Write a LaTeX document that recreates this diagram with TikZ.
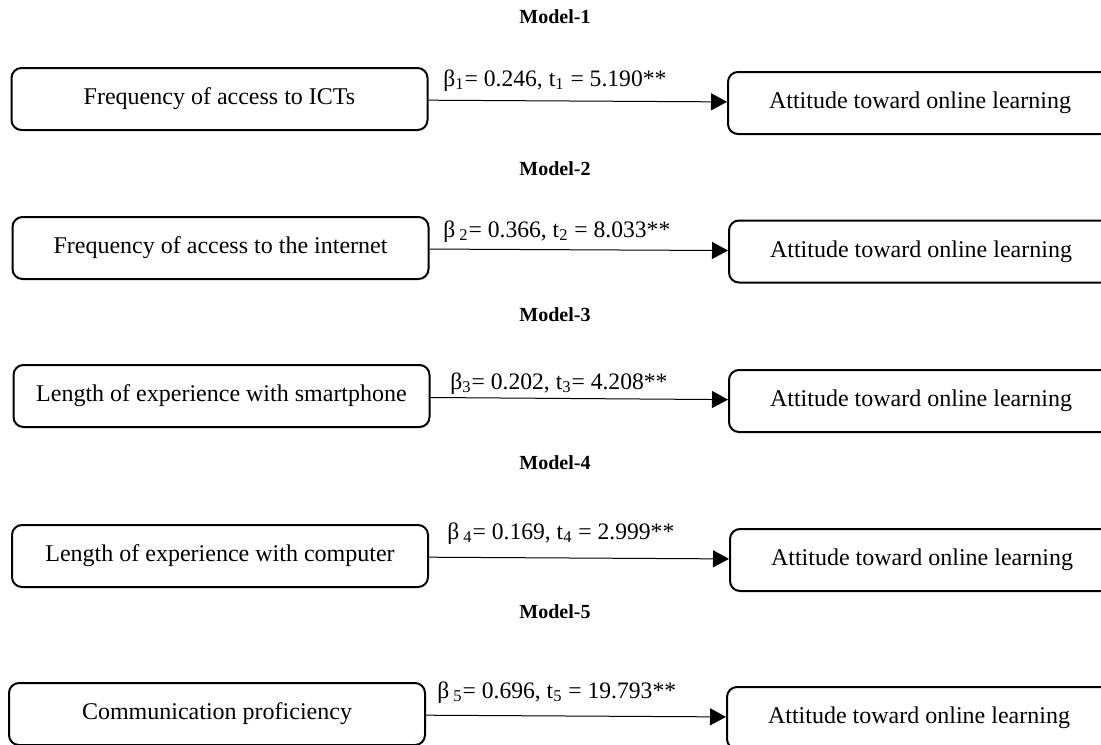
\documentclass[tikz,border=0pt]{standalone}
\usepackage{fontspec}
\setmainfont{Liberation Serif}
\usetikzlibrary{arrows.meta}

\begin{document}
\begin{tikzpicture}[x=0.5pt, y=-0.5pt,
    box/.style={draw, line width=1pt, rounded corners=5pt, minimum height=31pt,
      font=\fontsize{12}{14}\selectfont},
    predbox/.style={box, minimum width=208pt},
    outbox/.style={box, minimum width=192pt},
    title/.style={font=\fontsize{10}{12}\selectfont\bfseries},
    coef/.style={anchor=base west, inner sep=0pt, font=\fontsize{11.8}{14}\selectfont},
    path/.style={line width=0.5pt, -{Triangle[length=8pt, width=8.5pt]}}]
  \useasboundingbox (0, 0) rectangle (1101, 744);
  \clip (0, 0) rectangle (1101, 744);

  % titles
  \node[title] (m1) at (555, 17) {Model-1};
  \node[title] (m2) at (555, 169) {Model-2};
  \node[title] (m3) at (555, 315) {Model-3};
  \node[title] (m4) at (555, 463) {Model-4};
  \node[title] (m5) at (555, 612) {Model-5};

  % predictors
  \node[predbox] (p1) at (219.5, 99) {Frequency of access to ICTs};
  \node[predbox] (p2) at (220.5, 248) {Frequency of access to the internet};
  \node[predbox] (p3) at (221.5, 396) {Length of experience with smartphone};
  \node[predbox] (p4) at (220, 556) {Length of experience with computer};
  \node[predbox] (p5) at (217, 714) {Communication proficiency};

  % outcome
  \node[outbox] (o1) at (920, 103) {Attitude toward online learning};
  \node[outbox] (o2) at (921, 251.5) {Attitude toward online learning};
  \node[outbox] (o3) at (921, 401) {Attitude toward online learning};
  \node[outbox] (o4) at (922, 560) {Attitude toward online learning};
  \node[outbox] (o5) at (919, 718) {Attitude toward online learning};

  \draw[path] (p1) -- (o1);
  \draw[path] (p2) -- (o2);
  \draw[path] (p3) -- (o3);
  \draw[path] (p4) -- (o4);
  \draw[path] (p5) -- (o5);

  % coefficients
  \node[coef] (c1) at (443, 86) {β\textsubscript{1}= 0.246, t\textsubscript{1} = 5.190**};
  \node[coef] (c2) at (443, 237) {β\,\textsubscript{2}= 0.366, t\textsubscript{2} = 8.033**};
  \node[coef] (c3) at (450, 389) {β\textsubscript{3}= 0.202, t\textsubscript{3}= 4.208**};
  \node[coef] (c4) at (447, 539) {β\,\textsubscript{4}= 0.169, t\textsubscript{4} = 2.999**};
  \node[coef] (c5) at (437, 698) {β\,\textsubscript{5}= 0.696, t\textsubscript{5} = 19.793**};
\end{tikzpicture}
\end{document}
